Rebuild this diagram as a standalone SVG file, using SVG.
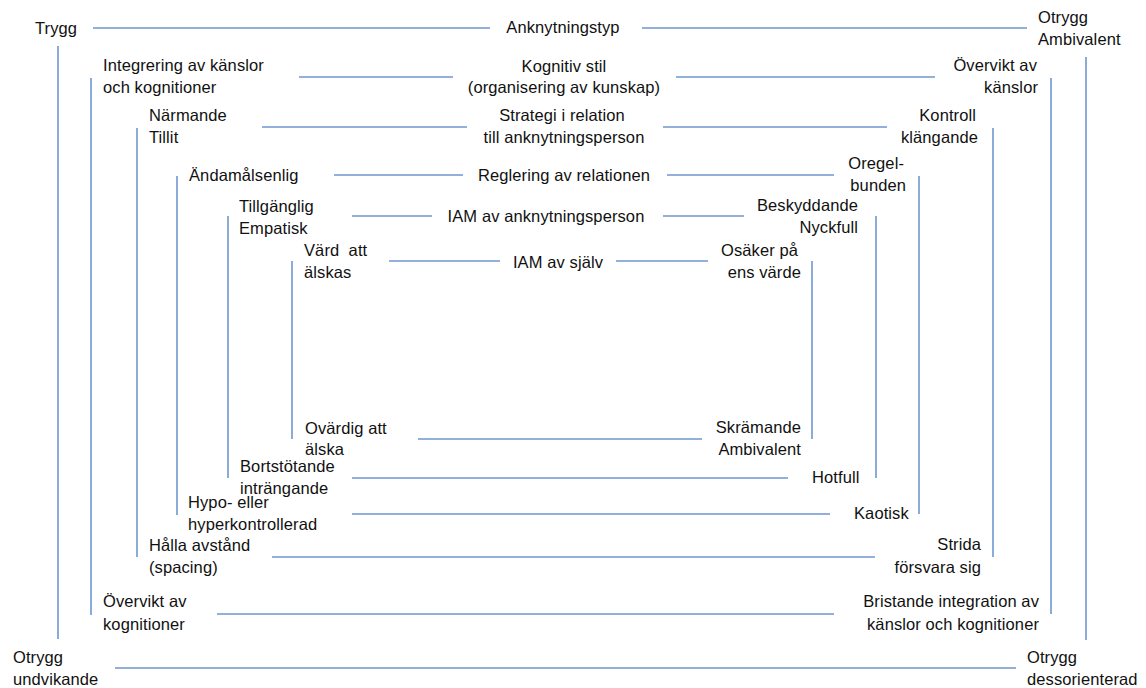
<svg xmlns="http://www.w3.org/2000/svg" width="1146" height="688" viewBox="0 0 1146 688">
<style>
text{font-family:"Liberation Sans",Arial,sans-serif;font-size:16.5px;fill:#111;letter-spacing:0.1px}
.m{text-anchor:middle}
.e{text-anchor:end}
.c line{stroke:#6f96cf;stroke-width:1.6}
</style>
<rect width="1146" height="688" fill="#fff"/>
<g class="c" id="connectors">
<line x1="93" y1="28" x2="490" y2="28"/><line x1="642" y1="28" x2="1027" y2="28"/>
<line x1="299" y1="77" x2="453" y2="77"/><line x1="676" y1="77" x2="935" y2="77"/>
<line x1="262" y1="127" x2="467" y2="127"/><line x1="663" y1="127" x2="887" y2="127"/>
<line x1="334" y1="175" x2="463" y2="175"/><line x1="667" y1="175" x2="834" y2="175"/>
<line x1="352" y1="216" x2="432" y2="216"/><line x1="663" y1="216" x2="744" y2="216"/>
<line x1="389" y1="261" x2="500" y2="261"/><line x1="616" y1="261" x2="708" y2="261"/>
<line x1="418" y1="439" x2="702" y2="439"/>
<line x1="352" y1="478" x2="788" y2="478"/>
<line x1="352" y1="514" x2="830" y2="514"/>
<line x1="272" y1="557" x2="875" y2="557"/>
<line x1="217" y1="614" x2="834" y2="614"/>
<line x1="115" y1="668" x2="1016" y2="668"/>
<line x1="58" y1="46" x2="58" y2="639"/>
<line x1="91" y1="78" x2="91" y2="615"/>
<line x1="137" y1="128" x2="137" y2="557"/>
<line x1="177" y1="176" x2="177" y2="515"/>
<line x1="228" y1="216" x2="228" y2="478"/>
<line x1="292" y1="261" x2="292" y2="439"/>
<line x1="1086" y1="57" x2="1086" y2="640"/>
<line x1="1051" y1="78" x2="1051" y2="614"/>
<line x1="993" y1="128" x2="993" y2="557"/>
<line x1="919" y1="176" x2="919" y2="514"/>
<line x1="876" y1="216" x2="876" y2="478"/>
<line x1="812" y1="261" x2="812" y2="439"/>
</g>
<g id="trygg"><text x="35" y="34">Trygg</text></g>
<g id="anknytningstyp"><text class="m" x="563" y="33">Anknytningstyp</text></g>
<g id="otrygg-ambivalent"><text x="1038" y="23">Otrygg</text><text x="1038" y="45">Ambivalent</text></g>
<g id="integrering"><text x="103" y="71">Integrering av känslor</text><text x="103" y="93">och kognitioner</text></g>
<g id="kognitiv-stil"><text class="m" x="564" y="72">Kognitiv stil</text><text class="m" x="564" y="93">(organisering av kunskap)</text></g>
<g id="overvikt-kanslor"><text class="e" x="1037" y="71">Övervikt av</text><text class="e" x="1038" y="93">känslor</text></g>
<g id="narmande"><text x="149" y="121">Närmande</text><text x="149" y="143">Tillit</text></g>
<g id="strategi"><text class="m" x="562" y="121">Strategi i relation</text><text class="m" x="564" y="143">till anknytningsperson</text></g>
<g id="kontroll"><text class="e" x="976" y="121">Kontroll</text><text class="e" x="978" y="143">klängande</text></g>
<g id="andamalsenlig"><text x="189" y="181">Ändamålsenlig</text></g>
<g id="reglering"><text class="m" x="564" y="181">Reglering av relationen</text></g>
<g id="oregelbunden"><text class="e" x="904" y="169">Oregel-</text><text class="e" x="906" y="191">bunden</text></g>
<g id="tillganglig"><text x="239" y="212">Tillgänglig</text><text x="239" y="234">Empatisk</text></g>
<g id="iam-person"><text class="m" x="546" y="222">IAM av anknytningsperson</text></g>
<g id="beskyddande"><text class="e" x="858" y="211">Beskyddande</text><text class="e" x="858" y="233">Nyckfull</text></g>
<g id="vard"><text x="304" y="256">Värd&#160; att</text><text x="304" y="278">älskas</text></g>
<g id="iam-sjalv"><text class="m" x="558" y="268">IAM av själv</text></g>
<g id="osaker"><text class="e" x="798" y="256">Osäker på</text><text class="e" x="801" y="278">ens värde</text></g>
<g id="ovardig"><text x="305" y="434">Ovärdig att</text><text x="305" y="455">älska</text></g>
<g id="skramande"><text class="e" x="801" y="433">Skrämande</text><text class="e" x="801" y="455">Ambivalent</text></g>
<g id="bortstotande"><text x="240" y="472">Bortstötande</text><text x="240" y="494">inträngande</text></g>
<g id="hotfull"><text x="812" y="483">Hotfull</text></g>
<g id="hypo"><text x="188" y="508">Hypo- eller</text><text x="188" y="530">hyperkontrollerad</text></g>
<g id="kaotisk"><text x="854" y="519">Kaotisk</text></g>
<g id="halla"><text x="149" y="551">Hålla avstånd</text><text x="149" y="573">(spacing)</text></g>
<g id="strida"><text class="e" x="981" y="550">Strida</text><text class="e" x="981" y="573">försvara sig</text></g>
<g id="overvikt-kognitioner"><text x="103" y="607">Övervikt av</text><text x="103" y="630">kognitioner</text></g>
<g id="bristande"><text class="e" x="1039" y="607">Bristande integration av</text><text class="e" x="1039" y="630">känslor och kognitioner</text></g>
<g id="otrygg-undvikande"><text x="13" y="663">Otrygg</text><text x="13" y="685">undvikande</text></g>
<g id="otrygg-dessorienterad"><text x="1027" y="663">Otrygg</text><text x="1027" y="685">dessorienterad</text></g>
</svg>
